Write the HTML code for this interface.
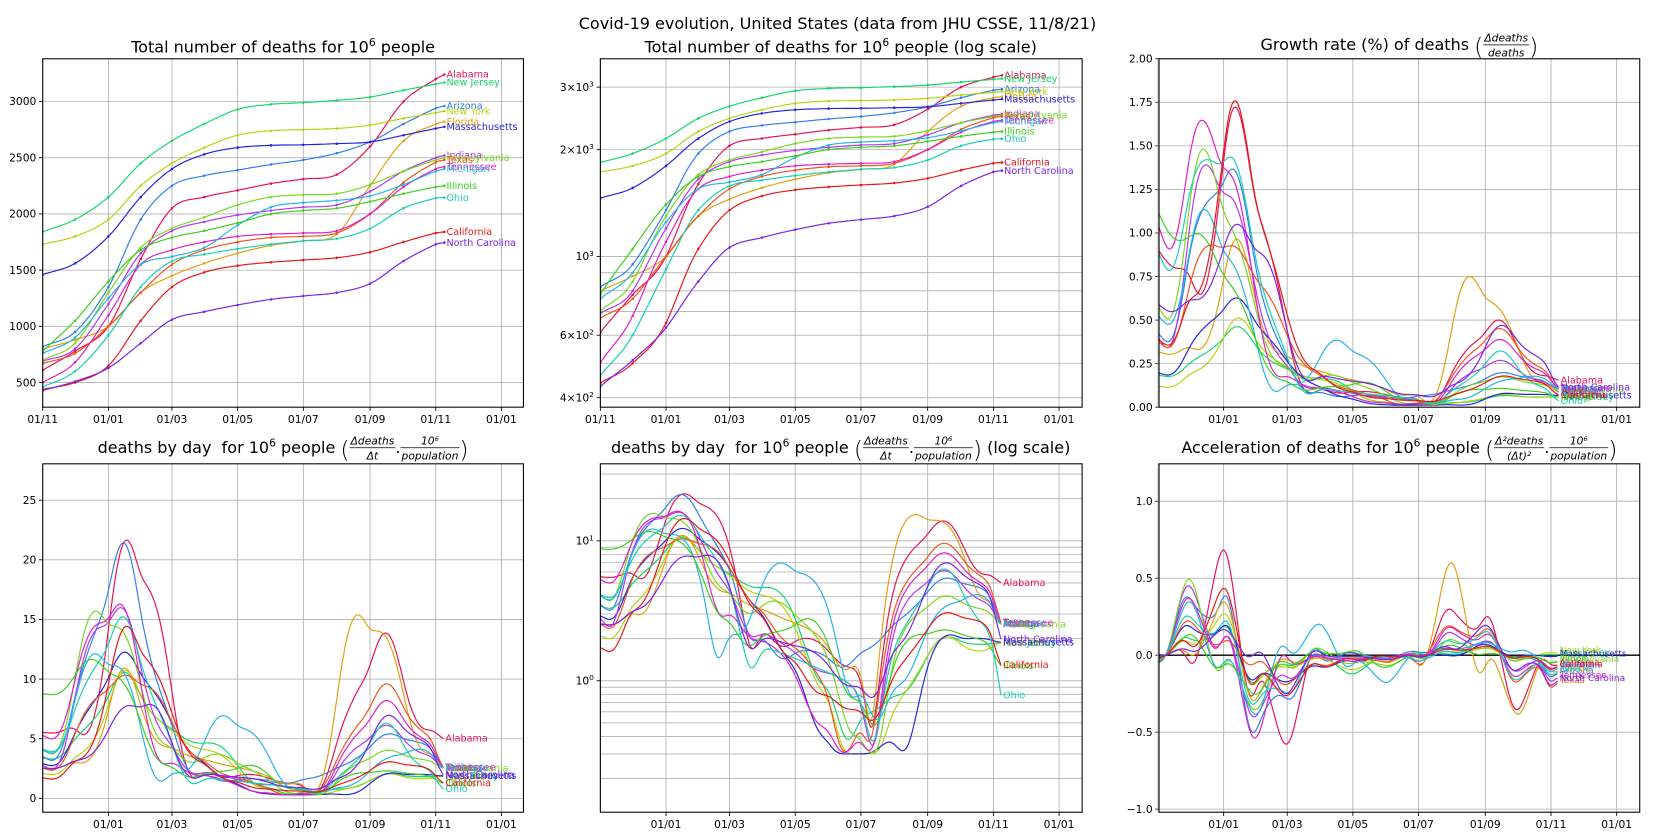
<!DOCTYPE html>
<html><head><meta charset="utf-8"><style>
html,body{margin:0;padding:0;background:#fff;width:1675px;height:840px;overflow:hidden}
svg{display:block;font-family:"DejaVu Sans","Liberation Sans",sans-serif}
</style></head><body>
<svg id="fig" width="1675" height="840" viewBox="0 0 1568 786" preserveAspectRatio="none" xmlns="http://www.w3.org/2000/svg">
<text x="784" y="27" font-size="15" text-anchor="middle">Covid-19 evolution, United States (data from JHU CSSE, 11/8/21)</text>
</svg>
<script>
// ---- data: cumulative deaths per 10^6 people, sampled at days since 2020-11-01 ----
const sampleDays = [0, 30, 61, 91, 120, 150, 181, 212, 242, 273, 304, 335, 365, 373];
const states = ["Alabama","New Jersey","Arizona","New York","Florida","Massachusetts","Indiana","Pennsylvania","Texas","Tennessee","Michigan","Illinois","Ohio","California","North Carolina"];
const colors = ["#e8124f","#12d86a","#2f7df0","#b5d40e","#e0a010","#2323e0","#b535f0","#78d81e","#f0541c","#e01ec8","#22b4e8","#3ccf1c","#16d0b4","#e8161a","#7a22e8"];
const alabama = [610,780,1000,1600,2050,2150,2210,2270,2310,2350,2600,3000,3200,3240];
const newJersey = [1840,1950,2150,2450,2650,2800,2930,2975,2990,3010,3040,3100,3155,3170];
const arizona = [820,950,1350,1950,2250,2340,2390,2440,2480,2540,2640,2800,2940,2960];
const newYork = [1730,1800,1950,2250,2450,2590,2700,2740,2750,2760,2790,2850,2900,2915];
const florida = [800,880,1000,1300,1450,1560,1650,1720,1760,1820,2250,2650,2800,2820];
const massachusetts = [1460,1560,1800,2150,2400,2530,2590,2610,2615,2625,2640,2700,2760,2775];
const indiana = [690,800,1200,1650,1850,1930,1990,2030,2060,2080,2200,2380,2500,2520];
const pennsylvania = [700,850,1300,1700,1870,1970,2080,2150,2170,2180,2260,2380,2480,2500];
const texas = [670,760,1000,1300,1550,1680,1750,1790,1800,1830,2000,2280,2460,2480];
const tennessee = [500,680,1100,1550,1680,1750,1800,1820,1830,1850,2000,2240,2400,2420];
const michigan = [760,900,1250,1550,1620,1700,1900,2060,2100,2120,2160,2260,2380,2400];
const illinois = [780,1050,1400,1680,1790,1850,1920,2000,2030,2050,2110,2180,2240,2250];
const ohio = [460,600,920,1350,1580,1640,1690,1730,1760,1780,1870,2050,2140,2145];
const california = [440,500,650,1050,1350,1480,1540,1570,1590,1610,1660,1750,1830,1840];
const northCarolina = [430,510,630,850,1060,1130,1190,1240,1270,1300,1380,1580,1730,1745];
const series = [alabama,newJersey,arizona,newYork,florida,massachusetts,indiana,pennsylvania,texas,tennessee,michigan,illinois,ohio,california,northCarolina];
const xTickDays = [0,61,120,181,242,304,365,426];
const xTickLabels = ["01/11","01/01","01/03","01/05","01/07","01/09","01/11","01/01"];
const linTicks1 = [500,1000,1500,2000,2500,3000];
const logTicks2 = [400,600,1000,2000,3000];
const logTickLabels2 = [["4","×10","2"],["6","×10","2"],["","10","3"],["2","×10","3"],["3","×10","3"]];
const ticks3 = [0,0.25,0.5,0.75,1.0,1.25,1.5,1.75,2.0];
const ticks4 = [0,5,10,15,20,25];
const ticks6 = [-1.0,-0.5,0.0,0.5,1.0];

const NS="http://www.w3.org/2000/svg";
const svg=document.getElementById('fig');
function mk(tag,attrs,parent){const e=document.createElementNS(NS,tag);for(const k in attrs)e.setAttribute(k,attrs[k]);(parent||svg).appendChild(e);return e;}

const P=[
 {l:40,r:490,t:55,b:381,x0:40},
 {l:562,r:1013,t:55,b:381,x0:562},
 {l:1085,r:1535,t:55,b:381,x0:1084},
 {l:40,r:490,t:434,b:760,x0:40},
 {l:562,r:1013,t:434,b:760,x0:562},
 {l:1085,r:1535,t:434,b:760,x0:1084}
];
const K=1.008;
function xs(p,d){return P[p].x0+d*K;}
const lin=(p,lo,hi)=>v=>P[p].b-(v-lo)/(hi-lo)*(P[p].b-P[p].t);
const ys=[
 lin(0,281,3380),
 v=>P[1].b-(Math.log10(v)-Math.log10(376))/(Math.log10(3606)-Math.log10(376))*(P[1].b-P[1].t),
 lin(2,0,2.0),
 lin(3,-1.16,28.05),
 v=>P[4].b-(Math.log10(Math.max(v,0.05))-Math.log10(0.115))/(Math.log10(35.5)-Math.log10(0.115))*(P[4].b-P[4].t),
 lin(5,-1.02,1.243)
];

function interp(xsA,yA,t){
 let i=0;while(i<xsA.length-2&&t>xsA[i+1])i++;
 const tan=j=>{const a=Math.max(j-1,0),b=Math.min(j+1,xsA.length-1);return (yA[b]-yA[a])/(xsA[b]-xsA[a]);};
 const h=xsA[i+1]-xsA[i],s=(t-xsA[i])/h;
 const h00=2*s*s*s-3*s*s+1,h10=s*s*s-2*s*s+s,h01=-2*s*s*s+3*s*s,h11=s*s*s-s*s;
 return h00*yA[i]+h10*h*tan(i)+h01*yA[i+1]+h11*h*tan(i+1);
}
function smooth(a,sig){const out=[];const R=Math.ceil(sig*3);for(let i=0;i<a.length;i++){let s=0,w=0;for(let k=-R;k<=R;k++){const j=i+k;if(j<0||j>=a.length)continue;const g=Math.exp(-k*k/(2*sig*sig));s+=g*a[j];w+=g;}out.push(s/w);}return out;}
const END=sampleDays[sampleDays.length-1];
const derived=series.map(s=>{
 const C=[];for(let t=0;t<=END;t++)C.push(interp(sampleDays,s,t));
 const d=[];for(let t=0;t<END;t++)d.push(Math.max(C[t+1]-C[t],0.3));
 const ds=smooth(d,5);
 const g=ds.map((v,t)=>v/C[t]*100);
 const a=[];for(let t=0;t<ds.length-1;t++)a.push(ds[t+1]-ds[t]);
 return {C,d:ds,g,a:smooth(a,3)};
});

P.forEach((p,i)=>{
 const g=mk('g',{});
 const cp=mk('clipPath',{id:'c'+i},g);mk('rect',{x:p.l,y:p.t,width:p.r-p.l,height:p.b-p.t},cp);
 p.g=g;
});
function hgrid(i,v,label){const p=P[i];const y=ys[i](v);if(y<p.t-0.5||y>p.b+0.5)return;
 const ln=mk('line',{x1:p.l,x2:p.r,y1:y,y2:y,stroke:'#b0b0b0','stroke-width':0.8},P[i].g);
 if(label!==null){mk('line',{x1:p.l-3.5,x2:p.l,y1:y,y2:y,stroke:'#000','stroke-width':0.8},P[i].g);
  const t=mk('text',{x:p.l-6,y:y+3.5,'font-size':10,'text-anchor':'end'},P[i].g);
  if(Array.isArray(label)){t.appendChild(document.createTextNode(label[0]+label[1]));const s=mk('tspan',{dy:-4,'font-size':7},t);s.textContent=label[2];}else t.textContent=label;}}
linTicks1.forEach(v=>hgrid(0,v,String(v)));
[400,500,600,700,800,900,1000,2000,3000].forEach(v=>{const k=logTicks2.indexOf(v);hgrid(1,v,k>=0?logTickLabels2[k]:null);});
ticks3.forEach(v=>hgrid(2,v,v.toFixed(2)));
ticks4.forEach(v=>hgrid(3,v,String(v)));
[0.2,0.3,0.4,0.5,0.6,0.7,0.8,0.9,1,2,3,4,5,6,7,8,9,10,20,30].forEach(v=>hgrid(4,v,v===1?['','10','0']:v===10?['','10','1']:null));
ticks6.forEach(v=>hgrid(5,v,v<0?'\u2212'+Math.abs(v).toFixed(1):v.toFixed(1)));
P.forEach((p,i)=>{xTickDays.forEach((d,k)=>{const x=xs(i,d);if(x<p.l-1||x>p.r)return;
 const ln=mk('line',{x1:x,x2:x,y1:p.t,y2:p.b,stroke:'#b0b0b0','stroke-width':0.8},p.g);
 if(k===0&&(i===2||i>=3))return;
 mk('line',{x1:x,x2:x,y1:p.b,y2:p.b+3.5,stroke:'#000','stroke-width':0.8},p.g);
 const t=mk('text',{x:x,y:p.b+15,'font-size':10,'text-anchor':'middle'},p.g);t.textContent=xTickLabels[k];});
});

const fields=['C','C','g','d','d','a'];
P.forEach((p,i)=>{
 const lg=mk('g',{'clip-path':'url(#c'+i+')'},p.g);
 
 
 if(i===5){const z=mk('line',{x1:p.l,x2:p.r,y1:ys[5](0),y2:ys[5](0),stroke:'#000','stroke-width':1.3},lg);}
 derived.forEach((D,s)=>{
  const arr=D[fields[i]];let dd='';
  arr.forEach((v,t)=>{dd+=(t?'L':'M')+xs(i,t).toFixed(1)+','+ys[i](v).toFixed(1);});
  const pa=mk('path',{d:dd,fill:'none',stroke:colors[s],'stroke-width':1.1},lg);
  
  
  if(i<2){for(let k=0;k<sampleDays.length;k++){const c=mk('circle',{cx:xs(i,sampleDays[k]),cy:ys[i](series[s][k]),r:1.2,fill:colors[s]},lg);}}
  const last=arr[arr.length-1];
  const lt=mk('text',{x:xs(i,arr.length-1)+2,y:ys[i](last)+(i===5?0:3),'font-size':i===5?8.5:9,fill:colors[s]},p.g);
  
  
  lt.textContent=states[s];
 });
 const fr=mk('rect',{x:p.l,y:p.t,width:p.r-p.l,height:p.b-p.t,fill:'none',stroke:'#000','stroke-width':1},p.g);
 
});

// titles: sequential layout, centred on a given x
function title(cx,y,parts,name){
 const g=mk('g',{});
 let x=0;
 parts.forEach(pt=>{
  if(pt.t!==undefined){const t=mk('text',{x:x,y:y,'font-size':15,'xml:space':'preserve'},g);t.style.whiteSpace='pre';t.textContent=pt.t;x+=t.getComputedTextLength();}
  else if(pt.sup!==undefined){const t=mk('text',{x:x,y:y-6,'font-size':10},g);t.textContent=pt.sup;x+=t.getComputedTextLength();}
  else if(pt.p!==undefined){const t=mk('text',{x:x,y:y+4,'font-size':22,'font-weight':'100',transform:'translate(0,0)'},g);t.textContent=pt.p;x+=t.getComputedTextLength();}
  else if(pt.f){const [num,den]=pt.f;
   const a=mk('text',{x:0,y:y-8,'font-size':10,'font-style':'italic','text-anchor':'middle'},g);a.textContent=num;
   const b=mk('text',{x:0,y:y+6,'font-size':10,'font-style':'italic','text-anchor':'middle'},g);b.textContent=den;
   const w=Math.max(a.getComputedTextLength(),b.getComputedTextLength())+2;
   a.setAttribute('x',x+w/2);b.setAttribute('x',x+w/2);
   mk('line',{x1:x,x2:x+w,y1:y-5,y2:y-5,stroke:'#000','stroke-width':0.7},g);x+=w;}
 });
 g.setAttribute('transform','translate('+(cx-x/2)+',0)');
}
title(265,49,[{t:'Total number of deaths for 10'},{sup:'6'},{t:' people'}],'title-total-deaths');
title(787,49,[{t:'Total number of deaths for 10'},{sup:'6'},{t:' people (log scale)'}],'title-total-deaths-log');
title(1310,47,[{t:'Growth rate (%) of deaths '},{p:'('},{f:['Δdeaths','deaths']},{p:')'}],'title-growth-rate');
title(265,424,[{t:'deaths by day  for 10'},{sup:'6'},{t:' people '},{p:'('},{f:['Δdeaths','Δt']},{t:'.'},{f:['10⁶','population']},{p:')'}],'title-deaths-by-day');
title(787,424,[{t:'deaths by day  for 10'},{sup:'6'},{t:' people '},{p:'('},{f:['Δdeaths','Δt']},{t:'.'},{f:['10⁶','population']},{p:')'},{t:' (log scale)'}],'title-deaths-by-day-log');
title(1310,424,[{t:'Acceleration of deaths for 10'},{sup:'6'},{t:' people '},{p:'('},{f:['Δ²deaths','(Δt)²']},{t:'.'},{f:['10⁶','population']},{p:')'}],'title-acceleration');
</script>
</body></html>
